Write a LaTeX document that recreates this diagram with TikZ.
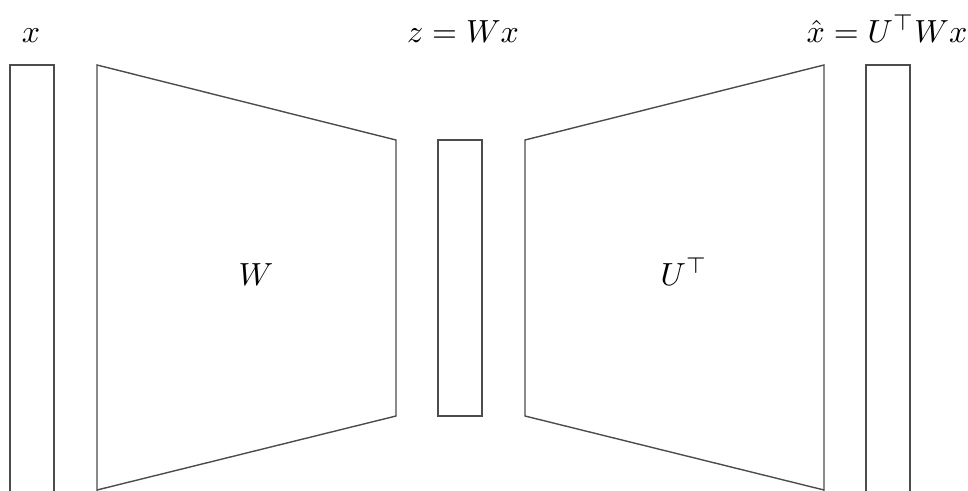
\documentclass[tikz,border=0pt]{standalone}
\usepackage{amsmath}
\definecolor{edgegray}{gray}{0.3}
\tikzset{
  outline/.style={draw=edgegray, line width=1.4pt, line join=miter},
  lab/.style={anchor=base, inner sep=0pt, scale=3.2}
}
\begin{document}
\begin{tikzpicture}[x=1pt,y=-1pt]
\useasboundingbox (0,0) rectangle (968,490);
\clip (0,0) rectangle (968,490);
% input vector x
\draw[outline] (10,500) -- (10,65) -- (54,65) -- (54,500);
% W trapezoid
\draw[outline] (97,500) -- (97,65) -- (396,140) -- (396,416) -- (97,490) ;
% latent z
\draw[outline] (438,140) rectangle (482,416);
% U^T trapezoid
\draw[outline] (824,500) -- (824,65) -- (525,140) -- (525,416) -- (824,490);
% output vector
\draw[outline] (866,500) -- (866,65) -- (910,65) -- (910,500);
% labels
\node[lab] (lx) at (31,42) {$x$};
\node[lab] (lz) at (463,42) {$z = Wx$};
\node[lab] (lxh) at (887,42) {$\hat{x} = U^{\top}Wx$};
\node[lab] (lW) at (256,285) {$W$};
\node[lab] (lU) at (684,285) {$U^{\top}$};
\end{tikzpicture}
\end{document}
